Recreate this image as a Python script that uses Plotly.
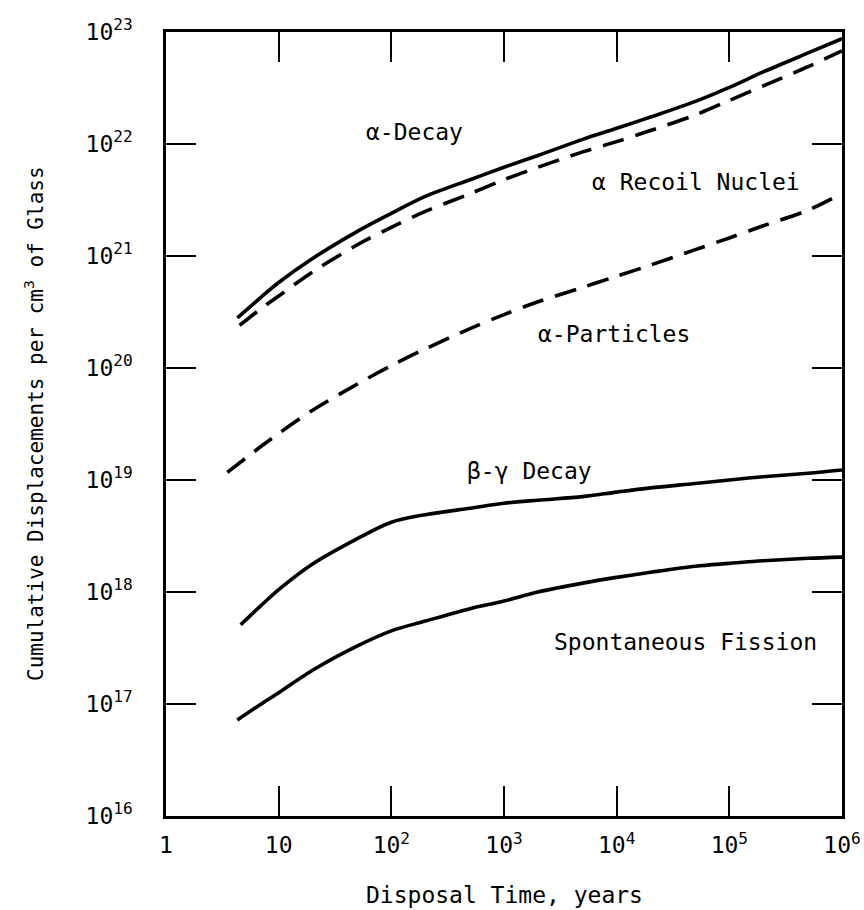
import math
import plotly.graph_objects as go

# ---- data ----
alpha_decay_years = [4.3, 7, 10, 20, 50, 100, 200, 500, 1e3, 2e3, 5e3, 1e4, 2e4, 5e4, 1e5, 2e5, 5e5, 1e6]
alpha_decay_vals = [2.8e20, 4.3e20, 5.8e20, 9.5e20, 1.66e21, 2.4e21, 3.4e21, 4.8e21, 6.2e21, 7.9e21,
                    1.1e22, 1.38e22, 1.74e22, 2.4e22, 3.2e22, 4.4e22, 6.5e22, 8.7e22]

alpha_recoil_years = [4.5, 7, 10, 20, 50, 100, 200, 500, 1e3, 2e3, 5e3, 1e4, 2e4, 5e4, 1e5, 2e5, 5e5, 1e6]
alpha_recoil_vals = [2.4e20, 3.4e20, 4.4e20, 7.2e20, 1.26e21, 1.8e21, 2.5e21, 3.6e21, 4.8e21, 6.2e21,
                     8.5e21, 1.05e22, 1.32e22, 1.82e22, 2.45e22, 3.3e22, 4.9e22, 6.8e22]

alpha_particle_years = [3.5, 7, 10, 20, 50, 100, 200, 500, 1e3, 2e3, 5e3, 1e4, 2e4, 5e4, 1e5, 2e5, 5e5, 1e6]
alpha_particle_vals = [1.17e19, 2.0e19, 2.6e19, 4.2e19, 7.2e19, 1.05e20, 1.48e20, 2.25e20, 3.0e20, 3.9e20,
                       5.25e20, 6.6e20, 8.3e20, 1.14e21, 1.45e21, 1.86e21, 2.57e21, 3.63e21]

beta_gamma_years = [4.6, 7, 10, 20, 50, 100, 200, 500, 1e3, 2e3, 5e3, 1e4, 2e4, 5e4, 1e5, 2e5, 5e5, 1e6]
beta_gamma_vals = [5.1e17, 7.6e17, 1.05e18, 1.78e18, 3.0e18, 4.2e18, 4.9e18, 5.6e18, 6.2e18, 6.6e18,
                   7.1e18, 7.8e18, 8.5e18, 9.3e18, 1.0e19, 1.07e19, 1.15e19, 1.23e19]

fission_years = [4.3, 7, 10, 20, 50, 100, 200, 500, 1e3, 2e3, 5e3, 1e4, 2e4, 5e4, 1e5, 2e5, 5e5, 1e6]
fission_vals = [7.2e16, 1.0e17, 1.26e17, 2.0e17, 3.3e17, 4.5e17, 5.5e17, 7.1e17, 8.3e17, 1.0e18,
                1.2e18, 1.35e18, 1.5e18, 1.7e18, 1.8e18, 1.9e18, 2.0e18, 2.05e18]

x_tick_vals = [1, 10, 1e2, 1e3, 1e4, 1e5, 1e6]
x_tick_text = ["1", "10", "10<sup>2</sup>", "10<sup>3</sup>", "10<sup>4</sup>", "10<sup>5</sup>", "10<sup>6</sup>"]
y_tick_vals = [1e16, 1e17, 1e18, 1e19, 1e20, 1e21, 1e22, 1e23]
y_tick_text = ["10<sup>16</sup>", "10<sup>17</sup>", "10<sup>18</sup>", "10<sup>19</sup>",
               "10<sup>20</sup>", "10<sup>21</sup>", "10<sup>22</sup>", "10<sup>23</sup>"]

# curve labels: text, years, value
label_text = ["α-Decay", "α Recoil Nuclei", "α-Particles", "β-γ Decay", "Spontaneous Fission"]
label_years = [162, 5.1e4, 9.4e3, 1.7e3, 4.1e4]
label_vals = [1.29e22, 4.6e21, 2.0e20, 1.2e19, 3.55e17]

FONT = "DejaVu Sans Mono"
INK = "black"

series = [
    (alpha_decay_years, alpha_decay_vals, "solid"),
    (alpha_recoil_years, alpha_recoil_vals, "22px,12px"),
    (alpha_particle_years, alpha_particle_vals, "22px,12px"),
    (beta_gamma_years, beta_gamma_vals, "solid"),
    (fission_years, fission_vals, "solid"),
]

fig = go.Figure()
for xs, ys, dash in series:
    fig.add_trace(go.Scatter(
        x=xs, y=ys, mode="lines",
        line=dict(color=INK, width=3.6, dash=dash, shape="spline", smoothing=0.9),
        showlegend=False, hoverinfo="skip",
    ))

for t, xv, yv in zip(label_text, label_years, label_vals):
    fig.add_annotation(x=math.log10(xv), y=math.log10(yv), xref="x", yref="y",
                       text=t, showarrow=False, font=dict(family=FONT, size=23, color=INK))

# axis titles as annotations
fig.add_annotation(x=0.5, y=0, xref="paper", yref="paper", xanchor="center", yanchor="middle",
                   yshift=-79, text="Disposal Time, years", showarrow=False,
                   font=dict(family=FONT, size=23, color=INK))
fig.add_annotation(x=0, y=0.5, xref="paper", yref="paper", xanchor="center", yanchor="middle",
                   xshift=-132, textangle=-90,
                   text="Cumulative Displacements per cm<sup>3</sup> of Glass", showarrow=False,
                   font=dict(family=FONT, size=21, color=INK))

axis_common = dict(
    showline=True, linewidth=2.5, linecolor=INK, mirror="allticks",
    ticks="inside", ticklen=30, tickwidth=1.5, tickcolor=INK,
    showgrid=False, zeroline=False,
    tickfont=dict(family=FONT, size=23, color=INK),
)
fig.update_xaxes(type="log", range=[0, 6], tickmode="array", tickvals=x_tick_vals,
                 ticktext=x_tick_text, ticklabelstandoff=7, **axis_common)
fig.update_yaxes(type="log", range=[16, 23], tickmode="array", tickvals=y_tick_vals,
                 ticktext=y_tick_text, ticklabelstandoff=26, **axis_common)

fig.update_layout(
    width=864, height=910,
    margin=dict(l=166, r=22, t=32, b=94, autoexpand=False),
    plot_bgcolor="white", paper_bgcolor="white",
    font=dict(family=FONT, color=INK),
)

fig.write_html("out.html")
